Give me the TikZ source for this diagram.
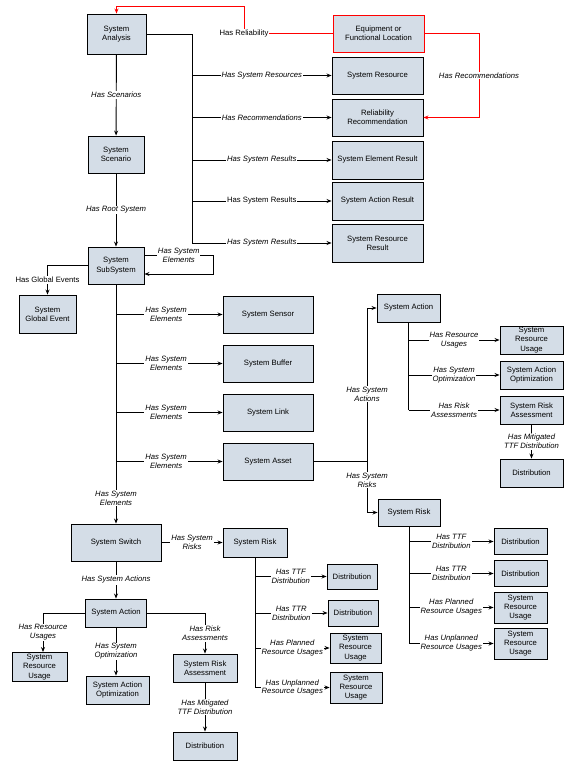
\documentclass[tikz,border=0pt]{standalone}
\usepackage{fontspec}
\setmainfont{Liberation Sans}
\usetikzlibrary{arrows.meta}
\definecolor{boxfill}{HTML}{D4DDE7}
\definecolor{relred}{HTML}{FF0000}
\tikzset{
 box/.style={draw=black, line width=0.9pt, fill=boxfill, align=center, inner sep=1pt, font=\fontsize{7.7}{9.3}\selectfont},
 lbl/.style={fill=white, inner sep=1pt, align=center, font=\fontsize{7.7}{9}\selectfont\itshape},
 lblu/.style={fill=white, inner sep=1pt, align=center, font=\fontsize{7.7}{9}\selectfont},
 conn/.style={line width=0.9pt},
 arr/.style={conn, -{Stealth[length=5pt,width=4pt]}},
 redarr/.style={arr, draw=relred},
}
\begin{document}
\begin{tikzpicture}[x=1pt,y=-1pt]
\useasboundingbox (0,0) rectangle (571,770);
% ---- top part
\node[box, minimum width=59pt, minimum height=40pt] (sa) at (116.5,34) {System\\Analysis};
\node[box, minimum width=56pt, minimum height=37pt] (ss) at (116,154.5) {System\\Scenario};
\node[box, minimum width=56pt, minimum height=37pt] (sub) at (116,265.5) {System\\SubSystem};
\node[box, minimum width=57pt, minimum height=38pt] (ge) at (47.5,314) {System\\Global Event};
\node[box, draw=relred, minimum width=91pt, minimum height=37pt] (eq) at (378.5,33.5) {Equipment or\\Functional Location};
\node[box, minimum width=91pt, minimum height=37pt] (sres) at (377.5,75.5) {System Resource};
\node[box, minimum width=91pt, minimum height=37pt] (rrec) at (377.5,117.5) {Reliability\\Recommendation};
\node[box, minimum width=91pt, minimum height=38pt] (ser) at (377.5,160) {System Element Result};
\node[box, minimum width=91pt, minimum height=38pt] (sar) at (377.5,201) {System Action Result};
\node[box, minimum width=91pt, minimum height=38pt] (srr) at (377.5,243) {System Resource\\Result};
% ---- elements
\node[box, minimum width=90pt, minimum height=37pt] (sens) at (268,314.5) {System Sensor};
\node[box, minimum width=90pt, minimum height=37pt] (buf) at (268,363.5) {System Buffer};
\node[box, minimum width=90pt, minimum height=37pt] (link) at (268,412.5) {System Link};
\node[box, minimum width=90pt, minimum height=37pt] (asset) at (268,461.5) {System Asset};
% ---- right cluster
\node[box, minimum width=63pt, minimum height=28pt] (ract) at (408.5,308) {System Action};
\node[box, minimum width=63pt, minimum height=28pt] (rsru) at (531.5,340) {System\\Resource\\Usage};
\node[box, minimum width=63pt, minimum height=28pt] (rsao) at (531.5,375) {System Action\\Optimization};
\node[box, minimum width=63pt, minimum height=28pt] (rsra) at (531.5,410) {System Risk\\Assessment};
\node[box, minimum width=63pt, minimum height=28pt] (rdist) at (531.5,473) {Distribution};
\node[box, minimum width=62pt, minimum height=27pt] (rrisk) at (409,512.5) {System Risk};
\node[box, minimum width=53pt, minimum height=26pt] (rd1) at (520.5,541.5) {Distribution};
\node[box, minimum width=53pt, minimum height=26pt] (rd2) at (520.5,573.5) {Distribution};
\node[box, minimum width=53pt, minimum height=31pt] (rsru1) at (520.5,607.5) {System\\Resource\\Usage};
\node[box, minimum width=53pt, minimum height=31pt] (rsru2) at (520.5,643.5) {System\\Resource\\Usage};
% ---- bottom left cluster
\node[box, minimum width=90pt, minimum height=37pt] (sw) at (116,542.5) {System Switch};
\node[box, minimum width=64pt, minimum height=29pt] (lrisk) at (255,542.5) {System Risk};
\node[box, minimum width=50pt, minimum height=25pt] (ld1) at (352,576.5) {Distribution};
\node[box, minimum width=50pt, minimum height=26pt] (ld2) at (353,613) {Distribution};
\node[box, minimum width=51pt, minimum height=30pt] (lsru1) at (355.5,648) {System\\Resource\\Usage};
\node[box, minimum width=52pt, minimum height=31pt] (lsru2) at (356,687.5) {System\\Resource\\Usage};
\node[box, minimum width=61pt, minimum height=28pt] (bact) at (116,613) {System Action};
\node[box, minimum width=55pt, minimum height=29pt] (bsru) at (39.5,667) {System\\Resource\\Usage};
\node[box, minimum width=63pt, minimum height=28pt] (bsao) at (117.5,690) {System Action\\Optimization};
\node[box, minimum width=64pt, minimum height=28pt] (bsra) at (205,668) {System Risk\\Assessment};
\node[box, minimum width=64pt, minimum height=28pt] (bdist) at (205,746) {Distribution};
% ---- coordinates
\coordinate (tb) at (192,243);
\coordinate (rc) at (244,6);
\coordinate (rl) at (479,33.5);
\coordinate (rl2) at (479,117.5);
\coordinate (l1) at (213,255);
\coordinate (l2) at (213,274);
\coordinate (aj) at (367,461.5);
\coordinate (bu) at ([xshift=3.5pt]bsru.north);
% ---- connectors top
\draw[arr] (sa) -- node[lbl]{Has Scenarios} (ss);
\draw[arr] (ss) -- node[lbl]{Has Root System} (sub);
\draw[conn] (sa.east) -| (tb);
\draw[arr] (sres.west -| tb) -- node[lbl]{Has System Resources} (sres.west);
\draw[arr] (rrec.west -| tb) -- node[lbl]{Has Recommendations} (rrec.west);
\draw[arr] (ser.west -| tb) -- node[lbl]{Has System Results} (ser.west);
\draw[arr] (sar.west -| tb) -- node[lblu]{Has System Results} (sar.west);
\draw[arr] (srr.west -| tb) -- node[lbl]{Has System Results} (srr.west);
\draw[redarr] (eq.west) -| node[lblu,pos=0.5]{Has Reliability} (rc) -| (sa.north);
\draw[redarr] (eq.east) -- (rl) -- node[lbl]{Has Recommendations} (rl2) -- (rrec.east);
% ---- subsystem
\draw[arr] (sub.east |- l1) -- node[lbl]{Has System\\Elements} (l1) -- (l2) -- (sub.east |- l2);
\draw[arr] (sub.west) -| node[lblu,pos=0.75]{Has Global Events} (ge.north);
\draw[arr] (sub.south) -- node[lbl,pos=0.894]{Has System\\Elements} (sw.north);
\draw[arr] (sens.west -| sub.south) -- node[lbl,pos=0.47]{Has System\\Elements} (sens.west);
\draw[arr] (buf.west -| sub.south) -- node[lbl,pos=0.47]{Has System\\Elements} (buf.west);
\draw[arr] (link.west -| sub.south) -- node[lbl,pos=0.47]{Has System\\Elements} (link.west);
\draw[arr] (asset.west -| sub.south) -- node[lbl,pos=0.47]{Has System\\Elements} (asset.west);
% ---- asset
\draw[conn] (asset.east) -- (aj);
\draw[arr] (aj) |- node[lbl,pos=0.22]{Has System\\Actions} (ract.west);
\draw[arr] (aj) |- node[lbl,pos=0.18]{Has System\\Risks} (rrisk.west);
\draw[conn] (ract.south) -- (ract.south |- rsra.west);
\draw[arr] (ract.south |- rsru.west) -- node[lbl]{Has Resource\\Usages} (rsru.west);
\draw[arr] (ract.south |- rsao.west) -- node[lbl]{Has System\\Optimization} (rsao.west);
\draw[arr] (ract.south |- rsra.west) -- node[lbl]{Has Risk\\Assessments} (rsra.west);
\draw[arr] (rsra) -- node[lbl]{Has Mitigated\\TTF Distribution} (rdist);
\draw[conn] (rrisk.south) -- (rrisk.south |- rsru2.west);
\draw[arr] (rrisk.south |- rd1.west) -- node[lbl]{Has TTF\\Distribution} (rd1.west);
\draw[arr] (rrisk.south |- rd2.west) -- node[lbl]{Has TTR\\Distribution} (rd2.west);
\draw[arr] (rrisk.south |- rsru1.west) -- node[lbl]{Has Planned\\Resource Usages} (rsru1.west);
\draw[arr] (rrisk.south |- rsru2.west) -- node[lbl]{Has Unplanned\\Resource Usages} (rsru2.west);
% ---- switch
\draw[arr] (sw.east) -- node[lbl]{Has System\\Risks} (lrisk.west);
\draw[arr] (sw.south) -- node[lbl]{Has System Actions} (bact.north);
\draw[conn] (lrisk.south) -- (lrisk.south |- lsru2.west);
\draw[arr] (lrisk.south |- ld1.west) -- node[lbl]{Has TTF\\Distribution} (ld1.west);
\draw[arr] (lrisk.south |- ld2.west) -- node[lbl]{Has TTR\\Distribution} (ld2.west);
\draw[arr] (lrisk.south |- lsru1.west) -- node[lbl]{Has Planned\\Resource Usages} (lsru1.west);
\draw[arr] (lrisk.south |- lsru2.west) -- node[lbl]{Has Unplanned\\Resource Usages} (lsru2.west);
\draw[arr] (bact.west) -| node[lbl,pos=0.75]{Has Resource\\Usages} (bu);
\draw[arr] (bact.south) -- node[lbl]{Has System\\Optimization} (bact.south |- bsao.north);
\draw[arr] (bact.east) -| node[lbl,pos=0.75]{Has Risk\\Assessments} (bsra.north);
\draw[arr] (bsra) -- node[lbl]{Has Mitigated\\TTF Distribution} (bdist);
\end{tikzpicture}
\end{document}
